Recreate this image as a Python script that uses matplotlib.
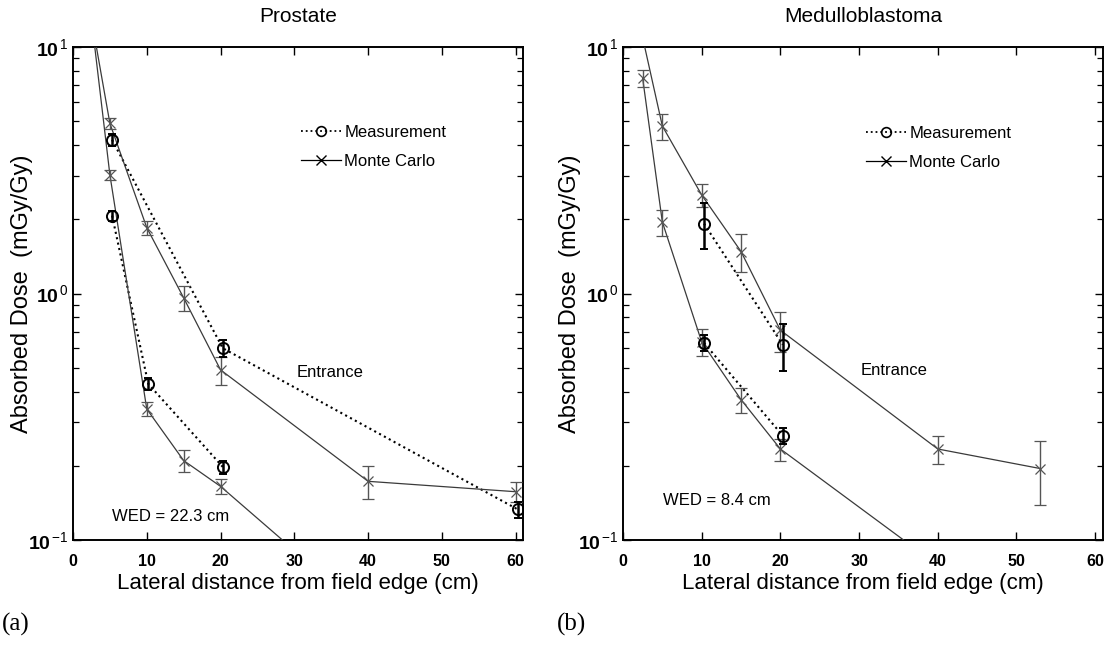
import matplotlib
matplotlib.use("Agg")
import matplotlib.pyplot as plt
from matplotlib.lines import Line2D
from matplotlib.ticker import LogLocator, FixedLocator, NullLocator, FuncFormatter
import math

plt.rcParams['font.family'] = ['Liberation Sans', 'DejaVu Sans']
plt.rcParams['mathtext.fontset'] = 'custom'
plt.rcParams['mathtext.rm'] = 'Liberation Sans'
plt.rcParams['mathtext.it'] = 'Liberation Sans'
plt.rcParams['mathtext.bf'] = 'Liberation Sans:bold'

# ---------------- data ----------------
x_ticks = [0, 10, 20, 30, 40, 50, 60]

# (a) Prostate
pro_mc_up_x = [2.5, 5, 10, 15, 20, 40, 60]
pro_mc_up_y = [13.0, 4.9, 1.85, 0.96, 0.49, 0.173, 0.157]
pro_mc_up_e = [0.0, 0.23, 0.12, 0.11, 0.063, 0.026, 0.015]

pro_mc_lo_x = [2.5, 5, 10, 15, 20, 40]
pro_mc_lo_y = [13.0, 3.03, 0.34, 0.21, 0.165, 0.05]
pro_mc_lo_e = [0.0, 0.14, 0.023, 0.022, 0.011, 0.0]

pro_ms_up_x = [5.3, 20.3, 60.3]
pro_ms_up_y = [4.2, 0.60, 0.133]
pro_ms_up_e = [0.25, 0.045, 0.01]

pro_ms_lo_x = [5.3, 10.2, 20.3]
pro_ms_lo_y = [2.07, 0.43, 0.198]
pro_ms_lo_e = [0.1, 0.025, 0.012]

# (b) Medulloblastoma
med_mc_up_x = [2.5, 5, 10, 15, 20, 40, 53]
med_mc_up_y = [10.9, 4.78, 2.51, 1.48, 0.71, 0.234, 0.195]
med_mc_up_e = [0.0, 0.57, 0.26, 0.26, 0.13, 0.031, 0.056]

med_mc_lo_x = [2.5, 5, 10, 15, 20, 40]
med_mc_lo_y = [7.46, 1.95, 0.636, 0.371, 0.234, 0.079]
med_mc_lo_e = [0.58, 0.24, 0.079, 0.044, 0.024, 0.0]

med_ms_up_x = [10.3, 20.3]
med_ms_up_y = [1.92, 0.62]
med_ms_up_e = [0.40, 0.135]

med_ms_lo_x = [10.3, 20.3]
med_ms_lo_y = [0.63, 0.265]
med_ms_lo_e = [0.048, 0.02]

titles = ["Prostate", "Medulloblastoma"]
wed_labels = ["WED = 22.3 cm", "WED = 8.4 cm"]
xlabel = "Lateral distance from field edge (cm)"
ylabel = "Absorbed Dose  (mGy/Gy)"
legend_labels = ["Measurement", "Monte Carlo"]
panel_tags = ["(a)", "(b)"]

# ---------------- figure ----------------
W, H = 1111, 645
fig = plt.figure(figsize=(W / 100, H / 100), dpi=100)
axL = fig.add_axes([73 / W, 105 / H, 450 / W, 493 / H])
axR = fig.add_axes([623 / W, 105 / H, 480 / W, 493 / H])

MC_COL = '#3a3a3a'
EB_COL = '#555555'


def draw_mc(ax, x, y, e):
    ax.plot(x, y, '-', color=MC_COL, lw=0.9, zorder=3)
    ax.errorbar(x, y, yerr=e, fmt='x', color=EB_COL, ecolor=EB_COL,
                ms=7, mew=0.9, elinewidth=1.0, capsize=4, capthick=1.0, zorder=4)


def draw_ms(ax, x, y, e):
    ax.plot(x, y, ':', color='black', lw=1.5, zorder=3)
    ax.errorbar(x, y, yerr=e, fmt='o', color='black', ecolor='black', mfc='none',
                ms=8, mew=1.4, elinewidth=1.8, capsize=3, capthick=1.8, zorder=5)


def exp_fmt(v, pos):
    p = int(round(math.log10(v)))
    return r'$\mathbf{10}^{\,\mathrm{%d}}$' % p


def style(ax):
    ax.set_yscale('log')
    ax.set_ylim(0.1, 10)
    ax.set_xlim(0, 61)
    ax.xaxis.set_major_locator(FixedLocator(x_ticks))
    ax.xaxis.set_minor_locator(NullLocator())
    ax.yaxis.set_major_locator(LogLocator(base=10, numticks=5))
    ax.yaxis.set_minor_locator(LogLocator(base=10, subs=range(2, 10), numticks=20))
    ax.yaxis.set_major_formatter(FuncFormatter(exp_fmt))
    ax.tick_params(which='both', direction='in', top=True, right=True)
    ax.tick_params(which='major', length=6, width=1.0)
    ax.tick_params(axis='x', which='major', labelsize=11.5, pad=10)
    ax.tick_params(axis='y', which='major', labelsize=14, pad=3)
    ax.tick_params(which='minor', length=4, width=0.9)
    for lab in ax.get_xticklabels():
        lab.set_fontweight('bold')
    for s in ax.spines.values():
        s.set_linewidth(1.4)
    ax.set_xlabel(xlabel, fontsize=16, labelpad=3)
    ax.set_ylabel(ylabel, fontsize=17)
    ax.yaxis.set_label_coords(-0.088, 0.5)


for ax in (axL, axR):
    style(ax)

draw_ms(axL, pro_ms_up_x, pro_ms_up_y, pro_ms_up_e)
draw_ms(axL, pro_ms_lo_x, pro_ms_lo_y, pro_ms_lo_e)
draw_mc(axL, pro_mc_up_x, pro_mc_up_y, pro_mc_up_e)
draw_mc(axL, pro_mc_lo_x, pro_mc_lo_y, pro_mc_lo_e)

draw_ms(axR, med_ms_up_x, med_ms_up_y, med_ms_up_e)
draw_ms(axR, med_ms_lo_x, med_ms_lo_y, med_ms_lo_e)
draw_mc(axR, med_mc_up_x, med_mc_up_y, med_mc_up_e)
draw_mc(axR, med_mc_lo_x, med_mc_lo_y, med_mc_lo_e)

for ax, t in zip((axL, axR), titles):
    ax.text(0.5, 1 + 31 / 493, t, transform=ax.transAxes, ha='center',
            va='center', fontsize=15)

axL.text(30.3, 0.479, "Entrance", fontsize=12, va='center', ha='left')
axR.text(30.2, 0.486, "Entrance", fontsize=12, va='center', ha='left')
axL.text(5.3, 0.125, wed_labels[0], fontsize=12, va='center', ha='left')
axR.text(5.1, 0.145, wed_labels[1], fontsize=12, va='center', ha='left')

handles = [
    Line2D([], [], ls=':', color='black', lw=1.3, marker='o', mfc='none', ms=7, mew=1.2),
    Line2D([], [], ls='-', color='black', lw=0.9, marker='x', ms=7, mew=1.0),
]
axL.legend(handles, legend_labels, loc='upper left',
           bbox_to_anchor=((301 - 73) / 450, (540 - 125) / 493),
           frameon=False, fontsize=12, handlelength=2.4, handletextpad=0.2,
           borderpad=0, borderaxespad=0, labelspacing=0.85)
axR.legend(handles, legend_labels, loc='upper left',
           bbox_to_anchor=((866 - 623) / 480, (540 - 126) / 493),
           frameon=False, fontsize=12, handlelength=2.4, handletextpad=0.2,
           borderpad=0, borderaxespad=0, labelspacing=0.85)

fig.text(2 / W, (645 - 624) / H, panel_tags[0], fontsize=18,
         family=['Liberation Serif'], va='center', ha='left')
fig.text(557 / W, (645 - 624) / H, panel_tags[1], fontsize=18,
         family=['Liberation Serif'], va='center', ha='left')

fig.savefig("out.png", dpi=100)
